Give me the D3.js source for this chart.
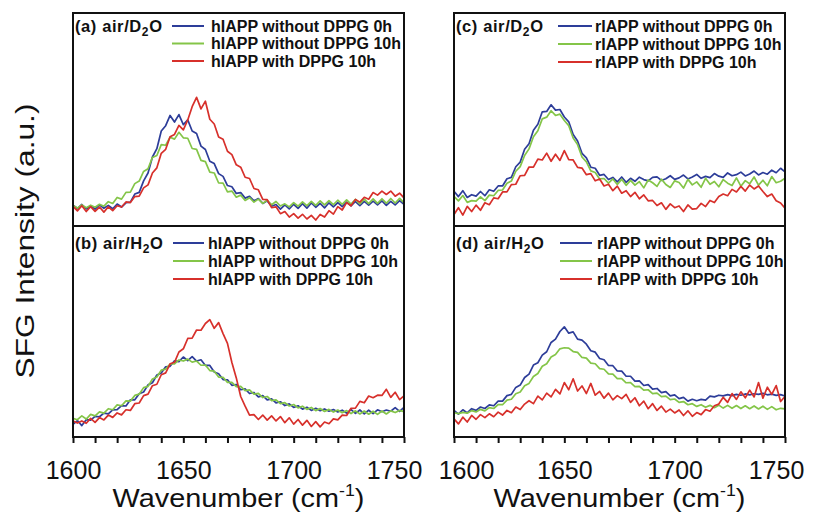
<!DOCTYPE html>
<html>
<head>
<meta charset="utf-8">
<script src="https://cdn.jsdelivr.net/npm/d3@7"></script>
<style>
  html, body { margin: 0; padding: 0; background: #fff; }
  svg { display: block; }
  text { font-family: "Liberation Sans", Arial, sans-serif; fill: #111; }
</style>
</head>
<body>
<svg id="chart" width="819" height="512"></svg>
<script>
// Wavenumber grid (cm^-1), one sample every 2 cm^-1
const wavenumber = d3.range(1600, 1751, 2);

// Tick labels on the wavenumber axis
const tickLabels = [1600, 1650, 1700, 1750];

// Panel titles: [prefix, subscript, suffix]
const panelTitles = [
  ["(a) air/D", "2", "O"],
  ["(b) air/H", "2", "O"],
  ["(c) air/D", "2", "O"],
  ["(d) air/H", "2", "O"]
];

const legendH = ["hIAPP without DPPG 0h", "hIAPP without DPPG 10h", "hIAPP with DPPG 10h"];
const legendR = ["rIAPP without DPPG 0h", "rIAPP without DPPG 10h", "rIAPP with DPPG 10h"];

// SFG intensity (a.u.), 76 samples per spectrum (1600–1750 cm^-1)
// Panel (a) hIAPP at air/D2O
const aBlue = [
  9.8, 8.2, 10.1, 8.0, 9.6, 7.9, 9.9, 8.3, 9.7, 8.1,
  10.3, 8.9, 10.9, 11.2, 15.0, 15.8, 21.2, 24.9, 32.4, 36.3,
  44.6, 47.1, 51.9, 48.8, 52.3, 47.6, 49.8, 44.6, 43.4, 37.5,
  35.9, 30.4, 29.3, 24.6, 23.3, 19.0, 18.4, 15.3, 15.7, 13.1,
  13.9, 11.8, 12.9, 10.6, 11.8, 9.3, 10.1, 7.9, 9.9, 8.0,
  10.2, 8.3, 10.5, 8.4, 10.8, 8.8, 10.6, 8.5, 10.9, 9.0,
  11.0, 9.1, 11.2, 9.5, 11.5, 9.6, 11.6, 9.8, 11.7, 9.9,
  11.8, 9.7, 11.6, 9.9, 11.9, 10.2];
const aGreen = [
  9.6, 8.4, 9.9, 8.6, 9.7, 8.8, 10.2, 9.3, 11.4, 10.6,
  13.4, 12.6, 15.8, 15.9, 19.9, 21.1, 25.6, 26.9, 32.2, 33.1,
  38.2, 37.9, 41.7, 40.8, 44.0, 41.4, 41.2, 36.4, 36.0, 30.8,
  30.2, 25.3, 24.9, 20.2, 20.1, 16.0, 16.4, 13.5, 14.5, 12.0,
  13.3, 11.2, 12.6, 10.6, 12.1, 10.0, 11.5, 9.4, 10.4, 9.0,
  11.0, 9.3, 11.3, 9.6, 11.6, 9.7, 11.8, 9.9, 11.9, 10.0,
  12.1, 10.2, 12.3, 10.3, 12.5, 10.4, 12.6, 10.5, 12.7, 10.6,
  12.8, 10.7, 12.9, 10.8, 13.0, 11.0];
const aRed = [
  9.2, 7.1, 9.5, 6.8, 9.1, 6.9, 8.9, 6.5, 9.0, 7.2,
  9.5, 8.9, 11.3, 11.0, 13.8, 14.0, 17.9, 19.3, 24.9, 27.3,
  34.1, 36.0, 41.9, 43.0, 47.2, 45.1, 49.8, 56.0, 60.4, 55.0,
  58.6, 50.1, 47.9, 41.8, 40.7, 35.1, 33.5, 28.7, 27.6, 22.9,
  22.3, 17.6, 17.0, 12.5, 12.4, 8.6, 9.0, 5.8, 6.8, 4.2,
  5.8, 3.7, 5.5, 3.3, 5.0, 2.8, 5.4, 4.2, 7.2, 5.6,
  9.1, 7.5, 11.0, 9.5, 12.5, 11.2, 13.5, 12.6, 15.7, 14.5,
  16.4, 14.8, 16.4, 14.0, 15.4, 13.2];

// Panel (b) hIAPP at air/H2O
const bBlue = [
  6.0, 7.8, 5.4, 8.2, 8.0, 9.8, 9.6, 11.3, 11.0, 12.9,
  13.0, 14.9, 14.7, 17.6, 17.6, 20.5, 21.3, 24.7, 25.7, 29.4,
  30.3, 33.3, 33.5, 36.1, 35.7, 37.9, 36.2, 38.1, 36.0, 36.6,
  33.9, 33.9, 30.8, 30.0, 27.2, 27.1, 24.5, 24.9, 22.4, 22.8,
  20.6, 21.1, 19.0, 19.6, 17.6, 18.1, 16.2, 16.7, 14.9, 15.7,
  14.0, 14.8, 13.2, 14.1, 12.6, 13.6, 12.5, 13.3, 12.2, 13.0,
  11.9, 12.7, 11.3, 13.0, 11.2, 12.8, 11.0, 12.7, 11.1, 12.9,
  12.0, 12.8, 12.2, 13.9, 12.1, 14.0];
const bGreen = [
  8.8, 8.2, 10.0, 8.5, 10.7, 10.0, 11.9, 11.3, 13.4, 12.9,
  15.2, 14.8, 17.1, 17.0, 19.7, 20.3, 23.4, 24.0, 27.5, 28.4,
  31.7, 32.2, 34.6, 34.6, 36.5, 36.0, 36.9, 35.5, 36.0, 34.0,
  34.1, 31.5, 31.2, 28.4, 28.3, 25.9, 25.9, 23.9, 24.0, 22.0,
  22.3, 20.3, 20.7, 18.7, 19.2, 17.2, 17.6, 15.8, 16.3, 14.7,
  15.4, 13.8, 14.6, 13.1, 14.0, 12.5, 13.5, 12.1, 13.1, 11.8,
  12.8, 11.5, 12.5, 11.1, 12.4, 10.9, 12.3, 10.8, 12.2, 10.7,
  12.3, 10.9, 12.4, 11.6, 12.6, 12.0];
const bRed = [
  7.6, 6.6, 7.6, 6.5, 8.8, 6.9, 9.2, 8.1, 10.4, 9.3,
  11.4, 10.5, 12.9, 12.6, 15.8, 16.1, 19.6, 20.3, 24.3, 25.0,
  29.5, 30.4, 34.7, 35.4, 40.3, 41.8, 46.7, 46.9, 50.7, 50.6,
  53.8, 55.6, 51.5, 54.2, 49.0, 44.4, 35.3, 28.0, 19.2, 14.6,
  10.4, 10.6, 8.3, 10.4, 8.0, 10.0, 7.6, 9.7, 6.8, 9.1,
  6.1, 8.3, 5.6, 7.9, 5.0, 7.3, 4.8, 7.1, 6.3, 8.6,
  8.1, 10.4, 10.2, 13.6, 13.7, 16.9, 16.2, 19.4, 18.6, 19.8,
  19.7, 22.6, 18.8, 21.2, 17.7, 19.5];

// Panel (c) rIAPP at air/D2O
const cBlue = [
  16.3, 13.8, 16.6, 13.4, 14.7, 14.0, 16.2, 14.2, 17.0, 16.3,
  18.8, 18.8, 22.2, 22.8, 27.8, 30.0, 36.0, 38.6, 45.0, 47.8,
  53.6, 53.8, 56.9, 54.4, 54.7, 51.2, 48.9, 43.0, 39.9, 34.1,
  32.0, 27.6, 27.1, 23.8, 24.2, 21.8, 22.8, 20.7, 23.0, 20.5,
  22.4, 21.0, 22.9, 21.8, 21.2, 22.8, 23.1, 21.4, 22.2, 23.6,
  21.9, 22.6, 23.9, 22.1, 23.0, 24.2, 22.4, 23.3, 22.7, 24.6,
  23.4, 22.8, 24.9, 23.6, 24.1, 25.3, 23.5, 24.4, 25.8, 24.0,
  25.1, 24.3, 26.2, 25.0, 27.1, 25.4];
const cGreen = [
  13.9, 11.8, 14.3, 11.1, 11.9, 11.7, 13.7, 11.9, 14.5, 14.2,
  16.7, 16.9, 20.1, 21.1, 25.7, 27.9, 33.1, 36.2, 41.9, 44.7,
  50.3, 51.1, 54.1, 51.9, 52.5, 49.5, 47.1, 41.3, 38.2, 32.4,
  30.1, 25.9, 25.1, 22.1, 22.3, 20.1, 22.1, 19.5, 21.9, 19.1,
  21.4, 19.2, 20.8, 17.9, 21.6, 20.3, 18.6, 22.0, 19.5, 18.1,
  21.2, 20.4, 17.8, 21.9, 19.3, 20.7, 18.2, 22.4, 19.6, 20.9,
  18.4, 21.8, 20.1, 19.0, 22.6, 18.7, 21.3, 19.8, 23.0, 19.2,
  21.5, 18.9, 23.2, 20.3, 21.0, 22.4];
const cRed = [
  5.4, 8.6, 5.1, 9.2, 6.8, 9.8, 7.4, 10.9, 10.0, 13.2,
  12.8, 16.0, 16.0, 19.4, 19.6, 23.6, 23.8, 27.7, 27.6, 31.4,
  31.0, 34.2, 30.4, 33.7, 30.8, 35.4, 31.2, 31.0, 27.5, 27.2,
  24.1, 24.6, 21.2, 22.1, 18.8, 19.6, 16.6, 18.7, 15.4, 16.6,
  13.8, 15.8, 12.8, 14.6, 11.8, 12.0, 9.6, 10.9, 7.8, 10.4,
  8.6, 9.4, 6.8, 9.9, 7.9, 8.2, 10.6, 9.1, 12.0, 11.0,
  13.8, 15.0, 14.2, 17.2, 16.0, 18.6, 16.4, 19.2, 17.4, 18.8,
  16.2, 13.8, 15.0, 11.9, 10.8, 8.4];

// Panel (d) rIAPP at air/H2O
const dBlue = [
  12.6, 10.8, 12.9, 11.4, 13.4, 12.6, 14.2, 13.5, 15.2, 14.8,
  17.0, 17.0, 19.6, 20.2, 23.5, 24.6, 28.2, 29.8, 34.1, 35.2,
  38.8, 40.4, 44.8, 46.4, 50.0, 52.2, 49.2, 49.8, 46.4, 45.9,
  44.0, 40.9, 40.2, 37.2, 36.6, 33.9, 33.8, 31.3, 31.2, 28.8,
  28.8, 26.5, 26.6, 24.4, 24.8, 22.7, 23.0, 21.0, 21.5, 19.5,
  20.0, 18.2, 18.8, 17.0, 17.9, 17.2, 17.8, 17.5, 19.4, 19.0,
  19.8, 19.5, 20.1, 19.6, 20.2, 19.8, 20.4, 20.0, 20.5, 20.2,
  20.7, 20.0, 20.3, 19.7, 20.1, 19.4];
const dGreen = [
  11.5, 11.1, 11.7, 11.3, 12.5, 11.9, 13.1, 12.4, 13.9, 13.5,
  15.3, 15.3, 17.5, 17.9, 20.5, 21.3, 24.3, 25.4, 28.7, 30.1,
  33.5, 34.7, 37.9, 39.1, 41.8, 42.3, 42.1, 40.5, 40.1, 37.7,
  37.4, 35.0, 34.7, 32.4, 32.1, 29.9, 29.8, 27.7, 27.7, 25.7,
  25.8, 23.9, 24.0, 22.2, 22.4, 20.6, 20.8, 19.1, 19.4, 17.7,
  18.0, 16.4, 16.8, 15.3, 15.8, 14.5, 15.3, 14.1, 15.0, 13.9,
  15.1, 13.7, 15.0, 13.6, 14.9, 13.5, 14.8, 13.4, 14.7, 13.3,
  14.6, 13.1, 14.4, 12.9, 13.6, 13.3];
const dRed = [
  8.6, 6.2, 9.4, 7.1, 10.2, 8.4, 10.6, 9.2, 11.0, 9.6,
  11.8, 10.4, 12.6, 11.5, 14.2, 13.0, 15.6, 17.2, 15.8, 19.4,
  17.6, 20.8, 19.0, 22.6, 20.4, 25.8, 22.4, 27.6, 21.8, 24.2,
  20.6, 25.4, 19.8, 21.6, 18.4, 20.8, 17.6, 19.6, 18.2, 20.2,
  16.4, 18.6, 14.8, 17.0, 13.4, 15.8, 12.6, 14.6, 11.8, 13.2,
  11.4, 12.8, 10.2, 12.4, 9.8, 11.6, 10.6, 13.0, 12.2, 14.8,
  15.6, 18.8, 16.4, 20.6, 17.8, 21.4, 18.6, 22.2, 19.0, 25.8,
  18.4, 23.6, 20.2, 24.4, 16.8, 19.2];

const colors = ["#2d3d99", "#84c548", "#d7302b"];

const panels = [
  { title: panelTitles[0], legend: legendH, series: [aBlue, aGreen, aRed],
    box: [73, 13, 404, 226], legendLine: [172, 204], legendText: 211, rowY: [31.5, 49, 66.5] },
  { title: panelTitles[1], legend: legendH, series: [bBlue, bGreen, bRed],
    box: [73, 226, 404, 437], legendLine: [173, 204], legendText: 208, rowY: [248.5, 266.5, 284.5] },
  { title: panelTitles[2], legend: legendR, series: [cBlue, cGreen, cRed],
    box: [454, 13, 785, 226], legendLine: [558, 592], legendText: 595, rowY: [31.5, 49.5, 67.5] },
  { title: panelTitles[3], legend: legendR, series: [dBlue, dGreen, dRed],
    box: [454, 226, 785, 437], legendLine: [560, 592], legendText: 597, rowY: [248.5, 266.5, 284.5] }
];

// Nudges for the end labels so adjacent panels' numbers don't collide
const labelNudge = { left: { 1750: -10 }, right: { 1600: 12, 1750: -9 } };

const svg = d3.select("#chart");

panels.forEach(p => {
  const [x0, y0, x1, y1] = p.box;
  const x = d3.scaleLinear().domain([1600, 1750]).range([x0, x1]);
  const y = d3.scaleLinear().domain([0, 100]).range([y1, y0]);
  const g = svg.append("g");

  const line = d3.line()
    .x((d, i) => x(wavenumber[i]))
    .y(d => y(d));

  p.series.forEach((s, k) => {
    g.append("path")
      .datum(s)
      .attr("d", line)
      .attr("fill", "none")
      .attr("stroke", colors[k])
      .attr("stroke-width", 1.7)
      .attr("stroke-linejoin", "round");
  });

  // Frame
  g.append("rect")
    .attr("x", x0).attr("y", y0)
    .attr("width", x1 - x0).attr("height", y1 - y0)
    .attr("fill", "none").attr("stroke", "#111").attr("stroke-width", 2);

  // Title with subscript
  const t = g.append("text")
    .attr("x", x0 + 2).attr("y", p.rowY[0])
    .attr("font-size", 16.5).attr("font-weight", "bold")
    .attr("letter-spacing", 0.6);
  t.append("tspan").text(p.title[0]);
  t.append("tspan").attr("font-size", 12).attr("dy", 4).text(p.title[1]);
  t.append("tspan").attr("dy", -4).text(p.title[2]);

  // Legend
  p.legend.forEach((label, k) => {
    const ly = p.rowY[k] - 5.5;
    g.append("line")
      .attr("x1", p.legendLine[0]).attr("x2", p.legendLine[1])
      .attr("y1", ly).attr("y2", ly)
      .attr("stroke", colors[k]).attr("stroke-width", 2);
    g.append("text")
      .attr("x", p.legendText).attr("y", p.rowY[k])
      .attr("font-size", 16).attr("font-weight", "bold")
      .text(label);
  });

  // Bottom axis on the lower panels
  if (y1 === 437) {
    const side = x0 < 200 ? "left" : "right";
    const axis = d3.axisBottom(x)
      .tickValues(d3.range(1600, 1751, 10))
      .tickSize(6)
      .tickPadding(18)
      .tickFormat(d => tickLabels.includes(d) ? d : "");
    const ag = g.append("g").attr("transform", `translate(0,${y1})`).call(axis);
    ag.select(".domain").remove();
    ag.selectAll(".tick line").attr("stroke", "#111").attr("stroke-width", 2);
    ag.selectAll(".tick text")
      .attr("font-family", "Liberation Sans, Arial, sans-serif")
      .attr("font-size", 25).attr("fill", "#111")
      .attr("dx", d => labelNudge[side][d] || 0);

    // Axis title
    const xt = g.append("text")
      .attr("transform", `translate(${(x0 + x1) / 2},507) scale(1.11,1)`)
      .attr("text-anchor", "middle").attr("font-size", 26);
    xt.append("tspan").text("Wavenumber (cm");
    xt.append("tspan").attr("font-size", 16).attr("dy", -11).text("-1");
    xt.append("tspan").attr("dy", 11).text(")");
  }
});

// Shared y-axis title
svg.append("text")
  .attr("transform", "translate(34,241) rotate(-90) scale(1.22,1)")
  .attr("text-anchor", "middle")
  .attr("font-size", 26)
  .text("SFG Intensity (a.u.)");
</script>
</body>
</html>
